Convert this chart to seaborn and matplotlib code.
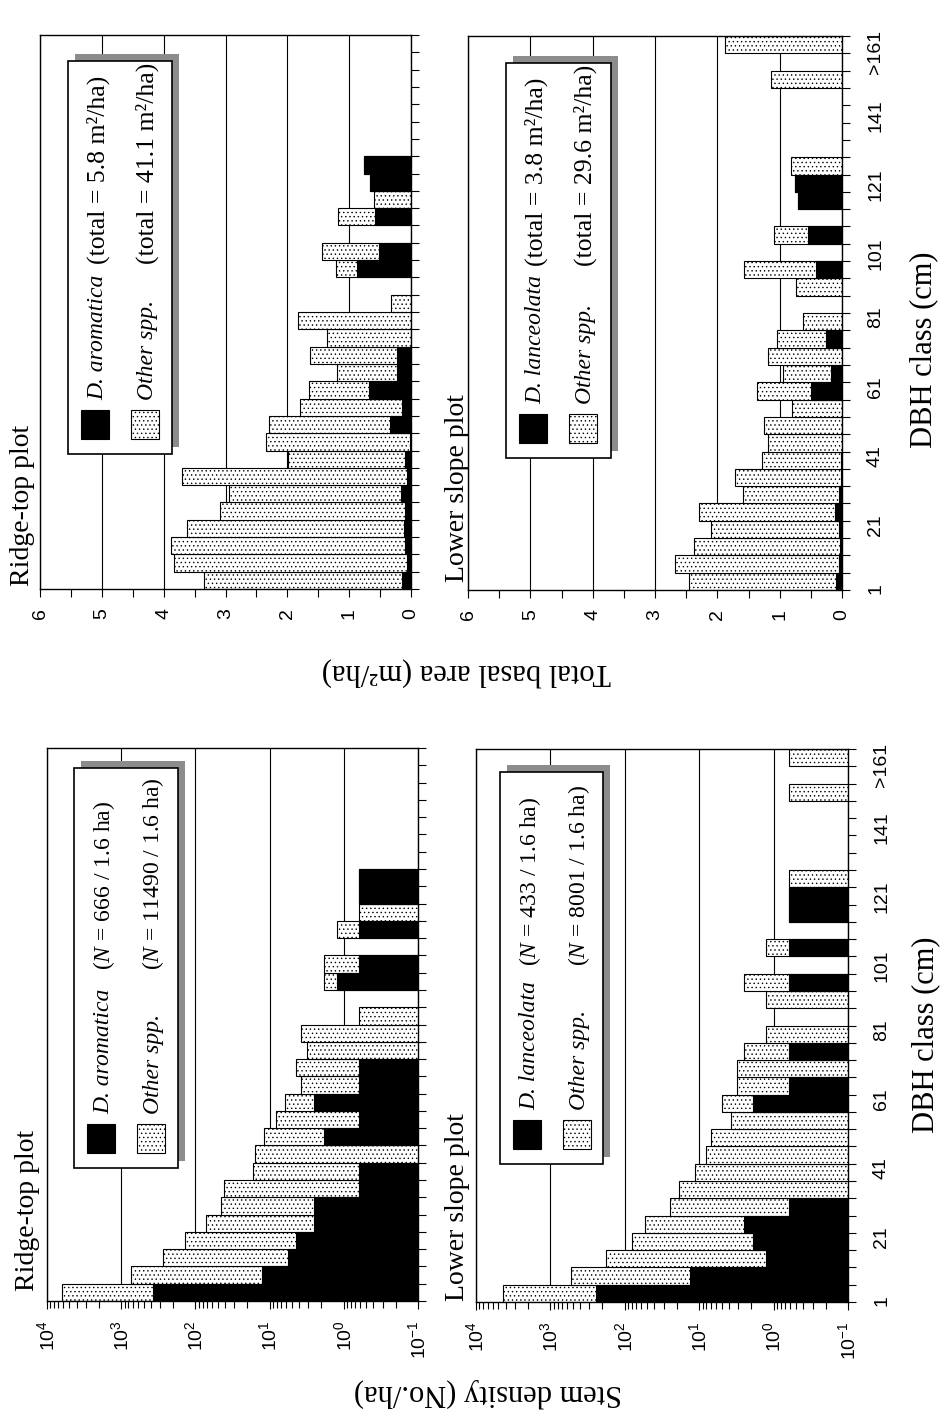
import numpy as np
import pandas as pd
import seaborn as sns
import matplotlib.pyplot as plt
from matplotlib.patches import Rectangle

W, H = 942, 1410

# 5 cm DBH classes, smallest first (32 classes up to the >161 edge)
N_CLASSES = 32
dbh_ticks = [0, 4, 8, 12, 16, 20, 24, 28, 32]
dbh_labels = ['1', '21', '41', '61', '81', '101', '121', '141', '>161']
PLOT_HA = 1.6

ba_ticks = [0, 1, 2, 3, 4, 5, 6]
ba_tick_labels = ['0', '1', '2', '3', '4', '5', '6']
dens_ticks = [1e-1, 1e0, 1e1, 1e2, 1e3, 1e4]
dens_tick_labels = [r'$\mathsf{10^{-1}}$', r'$\mathsf{10^{0}}$', r'$\mathsf{10^{1}}$',
                    r'$\mathsf{10^{2}}$', r'$\mathsf{10^{3}}$', r'$\mathsf{10^{4}}$']

# total basal area (m2/ha) per class
ba_ridge_dipt = [0.15, 0.06, 0.09, 0.12, 0.10, 0.16, 0.06, 0.09, 0.02, 0.34, 0.14, 0.68, 0.22, 0.23, 0, 0,
                 0, 0, 0.88, 0.51, 0, 0.59, 0, 0.67, 0.76, 0, 0, 0, 0, 0, 0, 0]
ba_ridge_other = [3.20, 3.77, 3.79, 3.51, 2.99, 2.78, 3.65, 1.90, 2.33, 1.95, 1.66, 0.97, 0.98, 1.41, 1.36, 1.82,
                  0.33, 0, 0.34, 0.93, 0, 0.59, 0.60, 0, 0, 0, 0, 0, 0, 0, 0, 0]
ba_lower_dipt = [0.10, 0.05, 0.04, 0.05, 0.11, 0.05, 0.02, 0.02, 0, 0, 0, 0.49, 0.17, 0, 0.26, 0,
                 0, 0, 0.42, 0, 0.55, 0, 0.70, 0.75, 0, 0, 0, 0, 0, 0, 0, 0]
ba_lower_other = [2.35, 2.63, 2.33, 2.05, 2.18, 1.54, 1.69, 1.26, 1.18, 1.25, 0.81, 0.87, 0.78, 1.18, 0.78, 0.62,
                  0, 0.74, 1.16, 0, 0.54, 0, 0, 0, 0.82, 0, 0, 0, 0, 1.14, 0, 1.87]

# stem counts per 1.6 ha plot
n_ridge_dipt = [605, 20, 9, 7, 4, 4, 1, 1, 0, 3, 1, 4, 1, 1, 0, 0,
                0, 0, 2, 1, 0, 1, 0, 1, 1, 0, 0, 0, 0, 0, 0, 0]
n_ridge_other = [9334, 1158, 431, 211, 111, 68, 64, 26, 25, 16, 12, 6, 5, 6, 5, 6,
                 1, 0, 1, 2, 0, 1, 1, 0, 0, 0, 0, 0, 0, 0, 0, 0]
n_lower_dipt = [393, 21, 2, 3, 4, 1, 0, 0, 0, 0, 0, 3, 1, 0, 1, 0,
                0, 0, 1, 0, 1, 0, 1, 1, 0, 0, 0, 0, 0, 0, 0, 0]
n_lower_other = [6537, 830, 280, 127, 82, 39, 30, 18, 13, 11, 6, 5, 4, 5, 3, 2,
                 0, 2, 3, 0, 1, 0, 0, 0, 1, 0, 0, 0, 0, 1, 0, 1]

plt.rcParams['font.family'] = 'Liberation Sans'
plt.rcParams['mathtext.fontset'] = 'custom'
plt.rcParams['mathtext.rm'] = 'Liberation Serif'
plt.rcParams['mathtext.it'] = 'Liberation Serif:italic'
plt.rcParams['mathtext.sf'] = 'Liberation Sans'
plt.rcParams['hatch.linewidth'] = 0.5
SERIF = 'Liberation Serif'


def px(x, y):
    return x / W, 1 - y / H


def make_axes(fig, x0, y0, x1, y1):
    return fig.add_axes([x0 / W, 1 - y1 / H, (x1 - x0) / W, (y1 - y0) / H])


def draw_bars(ax, dipt, other, scale=1.0):
    df = pd.DataFrame({'pos': np.arange(N_CLASSES) + 0.5,
                       'dipt': np.array(dipt, float) / scale,
                       'other': np.array(other, float) / scale})
    df['total'] = df['dipt'] + df['other']
    tot = df[df['total'] > 0]
    sns.barplot(data=tot, x='total', y='pos', orient='h', native_scale=True, width=1,
                color='white', saturation=1, errorbar=None, edgecolor='black',
                linewidth=0.8, hatch='....', ax=ax)
    dk = df[df['dipt'] > 0]
    sns.barplot(data=dk, x='dipt', y='pos', orient='h', native_scale=True, width=1,
                color='black', saturation=1, errorbar=None, edgecolor='black',
                linewidth=0.8, ax=ax)
    ax.set(xlabel='', ylabel='')


def style_axes(ax, log, dbh_lab):
    if log:
        ax.set_xlim(1e4, 1e-1)
        ax.set_xticks(dens_ticks, dens_tick_labels)
    else:
        ax.set_xlim(6, 0)
        ax.set_xticks(ba_ticks, ba_tick_labels)
        ax.set_xticks(np.arange(0.5, 6, 1), minor=True)
    ax.set_ylim(0, N_CLASSES)
    ax.yaxis.tick_right()
    ax.set_yticks(dbh_ticks, dbh_labels if dbh_lab else [''] * len(dbh_ticks))
    ax.set_yticks(np.arange(N_CLASSES + 1), minor=True)
    ax.grid(axis='x', which='major', color='black', linewidth=0.8)
    ax.set_axisbelow(True)
    ax.tick_params(axis='both', which='both', direction='out', color='black', width=0.8)
    ax.tick_params(axis='x', which='major', length=6, pad=8, labelsize=14, labelrotation=90)
    ax.tick_params(axis='x', which='minor', length=5 if log else 6)
    ax.tick_params(axis='y', which='both', length=6, pad=12, labelsize=14, labelrotation=90,
                   left=False, right=True)
    for lab in ax.get_yticklabels():
        lab.set_fontfamily('Liberation Sans')
    for s in ax.spines.values():
        s.set_color('black')
        s.set_linewidth(1.0)


def legend(fig, box, name1, text1, name2, text2, paren_y, paren_size):
    x0, y0, x1, y1 = box
    w, h = (x1 - x0) / W, (y1 - y0) / H
    fig.add_artist(Rectangle(px(x0 + 7, y1 - 7), w, h, transform=fig.transFigure,
                             facecolor='#8c8c8c', edgecolor='none'))
    fig.add_artist(Rectangle(px(x0, y1), w, h, transform=fig.transFigure,
                             facecolor='white', edgecolor='black', linewidth=1.2))
    fig.add_artist(Rectangle(px(x0 + 13, y1 - 15), 28 / W, 29 / H, transform=fig.transFigure,
                             facecolor='black', edgecolor='black', linewidth=0.8))
    fig.add_artist(Rectangle(px(x0 + 63, y1 - 15), 28 / W, 29 / H, transform=fig.transFigure,
                             facecolor='white', edgecolor='black', linewidth=0.8, hatch='....'))
    for xc, name, txt in [(x0 + 30, name1, text1), (x0 + 79, name2, text2)]:
        fig.text(*px(xc, y1 - 54), name, rotation=90, ha='center', va='bottom',
                 fontsize=17, fontfamily=SERIF, fontstyle='italic')
        fig.text(*px(xc, paren_y), txt, rotation=90, ha='center', va='bottom',
                 fontsize=paren_size, fontfamily=SERIF)


fig = plt.figure(figsize=(W / 100, H / 100), dpi=100)

ax_a = make_axes(fig, 40, 35, 411, 589)
draw_bars(ax_a, ba_ridge_dipt, ba_ridge_other)
style_axes(ax_a, False, False)

ax_b = make_axes(fig, 468, 36, 842, 590)
draw_bars(ax_b, ba_lower_dipt, ba_lower_other)
style_axes(ax_b, False, True)

ax_c = make_axes(fig, 47, 748, 418, 1301)
ax_c.set_xscale('log')
draw_bars(ax_c, n_ridge_dipt, n_ridge_other, PLOT_HA)
style_axes(ax_c, True, False)

ax_d = make_axes(fig, 476, 749, 848, 1302)
ax_d.set_xscale('log')
draw_bars(ax_d, n_lower_dipt, n_lower_other, PLOT_HA)
style_axes(ax_d, True, True)

legend(fig, (68, 61, 172, 454), 'D. aromatica', '(total = 5.8 m²/ha)',
       'Other spp.', '(total = 41.1 m²/ha)', 264, 18.5)
legend(fig, (506, 63, 611, 458), 'D. lanceolata', '(total = 3.8 m²/ha)',
       'Other spp.', '(total = 29.6 m²/ha)', 266, 18.5)
legend(fig, (74, 768, 178, 1168), 'D. aromatica', r'($\mathit{N}$ = 666 / 1.6 ha)',
       'Other spp.', r'($\mathit{N}$ = 11490 / 1.6 ha)', 970, 17)
legend(fig, (500, 772, 603, 1164), 'D. lanceolata', r'($\mathit{N}$ = 433 / 1.6 ha)',
       'Other spp.', r'($\mathit{N}$ = 8001 / 1.6 ha)', 966, 17)

# panel titles
for x, y, t in [(23, 586, 'Ridge-top plot'), (458, 582, 'Lower slope plot'),
                (28, 1291, 'Ridge-top plot'), (458, 1301, 'Lower slope plot')]:
    fig.text(*px(x, y), t, rotation=90, ha='center', va='bottom', fontsize=20, fontfamily=SERIF)

fig.text(*px(924, 350), 'DBH class (cm)', rotation=90, ha='center', va='center',
         fontsize=22, fontfamily=SERIF)
fig.text(*px(926, 1035), 'DBH class (cm)', rotation=90, ha='center', va='center',
         fontsize=22, fontfamily=SERIF)
fig.text(*px(466, 671), 'Total basal area (m²/ha)', rotation=180, ha='center', va='center',
         fontsize=22, fontfamily=SERIF)
fig.text(*px(488, 1393), 'Stem density (No./ha)', rotation=180, ha='center', va='center',
         fontsize=22, fontfamily=SERIF)

fig.savefig('out.png', dpi=100)
